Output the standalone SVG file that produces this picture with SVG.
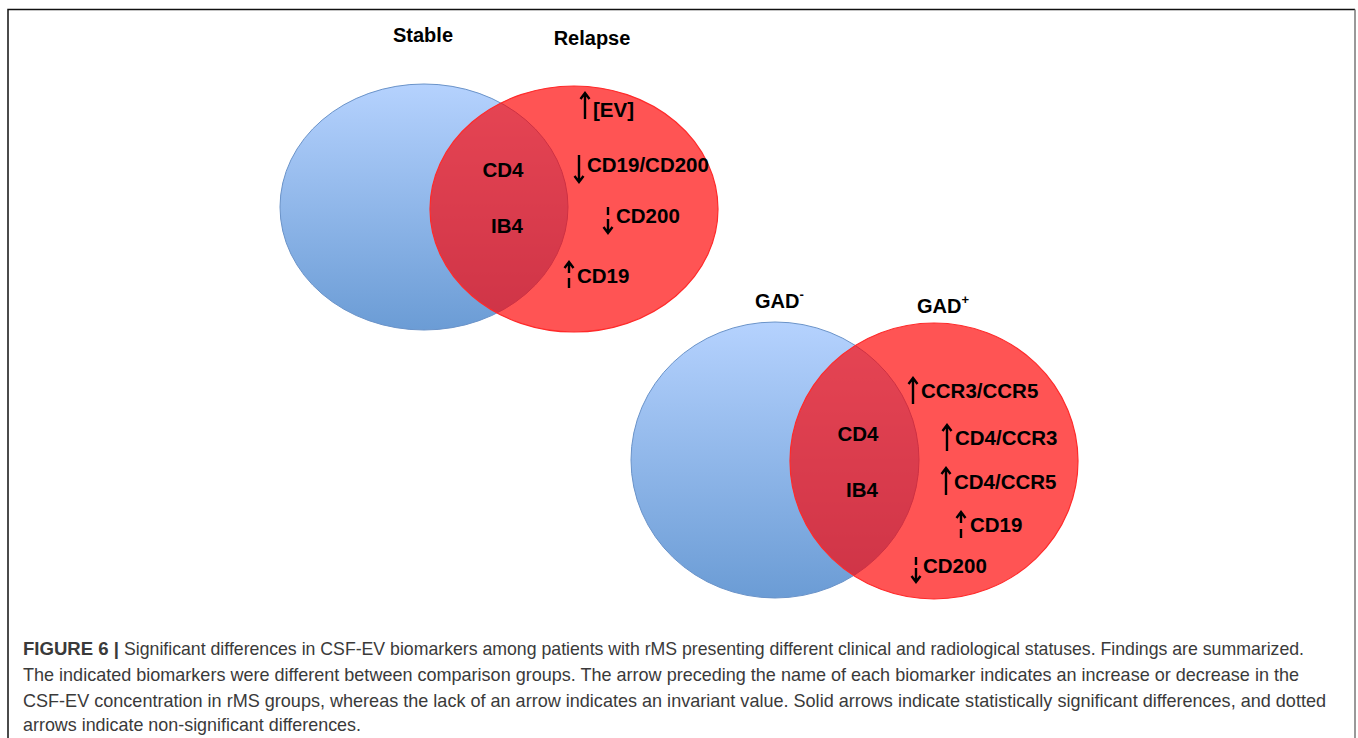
<svg xmlns="http://www.w3.org/2000/svg" width="1358" height="738" viewBox="0 0 1358 738">
<defs>
<linearGradient id="blueGrad" x1="0" y1="0" x2="0" y2="1">
<stop offset="0" stop-color="#b5d2fe"/>
<stop offset="1" stop-color="#6b9cd5"/>
</linearGradient>
<style>
.blue{fill:url(#blueGrad);stroke:#6a93c9;stroke-width:1}
.red{fill:#ff0000;fill-opacity:0.67;stroke:#ff2a2a;stroke-width:1.2}
.lbl{font-family:"Liberation Sans",Arial,sans-serif;font-weight:bold;font-size:20.5px;fill:#000}
.hdr{font-family:"Liberation Sans",Arial,sans-serif;font-weight:bold;font-size:20px;fill:#000}
.sup{font-family:"Liberation Sans",Arial,sans-serif;font-weight:bold;font-size:13px;fill:#000}
.arr{fill:none;stroke:#000;stroke-width:2.4;stroke-linecap:butt}
.cap{font-family:"Liberation Sans",Arial,sans-serif;font-size:18.5px;fill:#3a3a3a}
.capb{font-family:"Liberation Sans",Arial,sans-serif;font-size:18.5px;font-weight:bold;fill:#3a3a3a}
.frame{fill:none;stroke-width:1.5}
</style>
</defs>
<rect x="0" y="0" width="1358" height="738" fill="#fff"/>
<g id="frame">
<path d="M8,740 L8,9.5 L1355,9.5" class="frame" stroke="#111"/>
<path d="M1355,9.5 L1355,740" class="frame" stroke="#777"/>
</g>

<g id="stable">
<ellipse cx="424" cy="207" rx="144" ry="123" class="blue"/>
<text x="423" y="42" text-anchor="middle" class="hdr">Stable</text>
</g>
<g id="relapse">
<ellipse cx="574" cy="209" rx="144" ry="123" class="red"/>
<text x="592" y="45" text-anchor="middle" class="hdr">Relapse</text>
</g>
<g id="relapse-overlap">
<text x="503" y="177" text-anchor="middle" class="lbl">CD4</text>
<text x="507" y="233" text-anchor="middle" class="lbl">IB4</text>
</g>
<g id="relapse-items">
<path class="arr" d="M585,93 L585,119 M580.5,99 L585,93 L589.5,99"/>
<text x="593" y="117" class="lbl">[EV]</text>
<path class="arr" d="M579,155 L579,182 M574.5,176 L579,182 L583.5,176"/>
<text x="587" y="172" class="lbl">CD19/CD200</text>
<path class="arr" d="M608,207 L608,215 M608,219 L608,233 M603.5,227 L608,233 L612.5,227"/>
<text x="616" y="223" class="lbl">CD200</text>
<path class="arr" d="M569,262 L569,273 M564.5,268 L569,262 L573.5,268 M569,278 L569,288"/>
<text x="577" y="283" class="lbl">CD19</text>
</g>

<g id="gad-neg">
<ellipse cx="775" cy="460" rx="144" ry="138" class="blue"/>
<text x="755" y="308" class="hdr">GAD<tspan class="sup" dy="-9">-</tspan></text>
</g>
<g id="gad-pos">
<ellipse cx="934" cy="461" rx="144" ry="138" class="red"/>
<text x="917" y="313" class="hdr">GAD<tspan class="sup" dy="-9">+</tspan></text>
</g>
<g id="gad-overlap">
<text x="858" y="441" text-anchor="middle" class="lbl">CD4</text>
<text x="862" y="497" text-anchor="middle" class="lbl">IB4</text>
</g>
<g id="gad-items">
<path class="arr" d="M913,378 L913,404 M908.5,384 L913,378 L917.5,384"/>
<text x="921" y="398" class="lbl">CCR3/CCR5</text>
<path class="arr" d="M947,425 L947,451 M942.5,431 L947,425 L951.5,431"/>
<text x="955" y="445" class="lbl">CD4/CCR3</text>
<path class="arr" d="M946,468 L946,495 M941.5,474 L946,468 L950.5,474"/>
<text x="954" y="489" class="lbl">CD4/CCR5</text>
<path class="arr" d="M961,512 L961,523 M956.5,518 L961,512 L965.5,518 M961,529 L961,538"/>
<text x="970" y="532" class="lbl">CD19</text>
<path class="arr" d="M916,557 L916,565 M916,568 L916,582 M911.5,576 L916,582 L920.5,576"/>
<text x="923" y="573" class="lbl">CD200</text>
</g>

<g id="caption">
<text x="23" y="655" class="capb" textLength="96" lengthAdjust="spacingAndGlyphs">FIGURE 6 |</text>
<text x="124" y="655" class="cap" textLength="1180" lengthAdjust="spacingAndGlyphs">Significant differences in CSF-EV biomarkers among patients with rMS presenting different clinical and radiological statuses. Findings are summarized.</text>
<text x="23" y="681" class="cap" textLength="1276" lengthAdjust="spacingAndGlyphs">The indicated biomarkers were different between comparison groups. The arrow preceding the name of each biomarker indicates an increase or decrease in the</text>
<text x="23" y="707" class="cap" textLength="1303" lengthAdjust="spacingAndGlyphs">CSF-EV concentration in rMS groups, whereas the lack of an arrow indicates an invariant value. Solid arrows indicate statistically significant differences, and dotted</text>
<text x="23" y="731" class="cap" textLength="338" lengthAdjust="spacingAndGlyphs">arrows indicate non-significant differences.</text>
</g>
</svg>
